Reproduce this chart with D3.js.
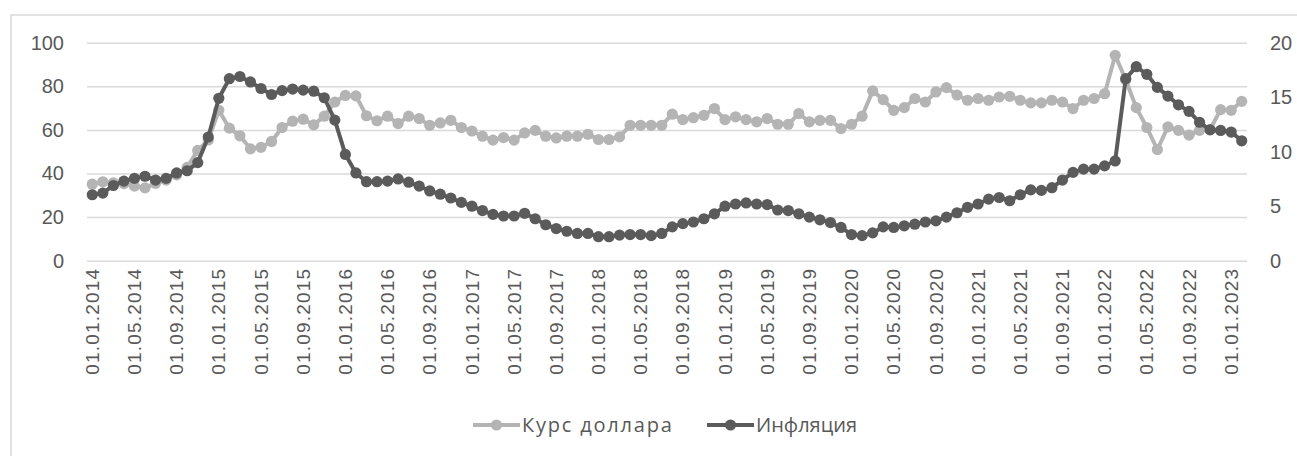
<!DOCTYPE html>
<html>
<head>
<meta charset="utf-8">
<script src="https://cdn.jsdelivr.net/npm/d3@7"></script>
<style>
  html, body { margin: 0; padding: 0; background: #fff; }
  svg { display: block; font-family: "Open Sans", "Noto Sans", sans-serif; }
</style>
</head>
<body>
<svg id="chart" width="1297" height="456"></svg>
<script>
// Monthly observations, January 2014 – February 2023
const months = d3.timeMonth.range(new Date(2014, 0, 1), new Date(2023, 2, 1));
const fmt = d3.timeFormat("%d.%m.%Y");
const categories = months.map(fmt);

// Every fourth month is labelled on the x axis
const tickLabels = [
  "01.01.2014", "01.05.2014", "01.09.2014", "01.01.2015", "01.05.2015", "01.09.2015",
  "01.01.2016", "01.05.2016", "01.09.2016", "01.01.2017", "01.05.2017", "01.09.2017",
  "01.01.2018", "01.05.2018", "01.09.2018", "01.01.2019", "01.05.2019", "01.09.2019",
  "01.01.2020", "01.05.2020", "01.09.2020", "01.01.2021", "01.05.2021", "01.09.2021",
  "01.01.2022", "01.05.2022", "01.09.2022", "01.01.2023"
];

// USD/RUB exchange rate, roubles (left axis)
const usdRate = [
  35.1, 36.2, 35.7, 35.4, 34.2, 33.4, 35.5, 37.0, 39.4, 42.8, 50.6, 55.4,
  69.0, 60.8, 57.3, 51.3, 52.0, 54.7, 61.1, 64.0, 64.9, 62.3, 66.3, 72.8,
  75.8, 75.6, 66.5, 64.2, 66.3, 62.9, 66.3, 65.2, 62.1, 63.2, 64.4, 61.1,
  59.5, 57.1, 55.3, 56.5, 55.3, 58.6, 59.8, 57.1, 56.3, 57.1, 57.1, 58.0,
  55.6, 55.6, 56.8, 62.1, 62.1, 62.1, 62.1, 67.2, 64.7, 65.6, 66.7, 69.8,
  64.7, 66.0, 64.7, 63.7, 65.2, 62.6, 62.6, 67.5, 63.7, 64.4, 64.4, 60.6,
  62.6, 66.3, 77.9, 73.9, 69.0, 70.2, 74.4, 72.8, 77.4, 79.4, 76.0, 73.6,
  74.4, 73.6, 75.1, 75.4, 73.6, 72.4, 72.4, 73.6, 72.8, 69.8, 73.6, 74.4,
  76.6, 94.2, 83.0, 70.2, 61.1, 51.0, 61.4, 59.8, 57.6, 59.8, 60.2, 69.3,
  69.0, 73.1
];

// Year-on-year inflation, % (right axis)
const inflation = [
  6.05, 6.2, 6.9, 7.3, 7.55, 7.75, 7.4, 7.55, 8.05, 8.25, 9.0, 11.35,
  14.9, 16.7, 16.9, 16.4, 15.8, 15.25, 15.6, 15.75, 15.65, 15.55, 14.95, 12.9,
  9.75, 8.05, 7.25, 7.25, 7.3, 7.5, 7.2, 6.85, 6.4, 6.1, 5.75, 5.35,
  5.0, 4.6, 4.25, 4.1, 4.1, 4.35, 3.85, 3.3, 2.95, 2.7, 2.5, 2.5,
  2.2, 2.2, 2.35, 2.4, 2.4, 2.3, 2.5, 3.1, 3.4, 3.55, 3.85, 4.3,
  5.0, 5.2, 5.3, 5.2, 5.15, 4.65, 4.6, 4.3, 4.0, 3.75, 3.5, 3.05,
  2.4, 2.3, 2.55, 3.1, 3.05, 3.2, 3.35, 3.55, 3.65, 4.0, 4.4, 4.9,
  5.2, 5.65, 5.8, 5.5, 6.05, 6.5, 6.45, 6.7, 7.4, 8.1, 8.4, 8.4,
  8.7, 9.15, 16.7, 17.8, 17.1, 15.9, 15.1, 14.3, 13.7, 12.7, 12.0, 11.95,
  11.8, 11.0
];

const leftTicks = [0, 20, 40, 60, 80, 100];
const rightTicks = [0, 5, 10, 15, 20];
const seriesNames = ["Курс доллара", "Инфляция"];

const svg = d3.select("#chart");
const textColor = "#595959";
const gridColor = "#d9d9d9";
const colorUsd = "#b4b4b4";
const colorInf = "#5b5b5b";

// Outer chart frame
svg.append("rect")
  .attr("x", 11).attr("y", 15)
  .attr("width", 1320).attr("height", 470)
  .attr("fill", "none").attr("stroke", gridColor).attr("stroke-width", 1.5);

const x = d3.scaleBand().domain(categories).range([87, 1247]);
const cx = d => x(d) + x.bandwidth() / 2;
const yL = d3.scaleLinear().domain([0, 100]).range([260.7, 42.7]);
const yR = d3.scaleLinear().domain([0, 20]).range([260.7, 42.7]);

// Left axis with horizontal gridlines
const gLeft = svg.append("g")
  .attr("transform", "translate(87,0)")
  .call(d3.axisLeft(yL).tickValues(leftTicks).tickSize(-1160).tickPadding(23));
gLeft.select(".domain").remove();
gLeft.selectAll(".tick line").attr("stroke", gridColor).attr("stroke-width", 1.5);
gLeft.selectAll(".tick text")
  .attr("fill", textColor).style("font-size", "20px");

// Right axis labels
const gRight = svg.append("g")
  .attr("transform", "translate(1247,0)")
  .call(d3.axisRight(yR).tickValues(rightTicks).tickSize(0).tickPadding(23));
gRight.select(".domain").remove();
gRight.selectAll(".tick text")
  .attr("fill", textColor).style("font-size", "20px");

// Category axis with vertical date labels
const gBottom = svg.append("g")
  .attr("transform", "translate(0,260.7)")
  .call(d3.axisBottom(x).tickValues(tickLabels).tickSize(0));
gBottom.select(".domain").remove();
gBottom.selectAll(".tick text")
  .attr("fill", textColor)
  .style("font-size", "19px")
  .style("letter-spacing", "1.2px")
  .attr("transform", "rotate(-90)")
  .attr("text-anchor", "end")
  .attr("dy", "0.35em")
  .attr("x", -7)
  .attr("y", 0);

// Series
const lineUsd = d3.line().x((d, i) => cx(categories[i])).y(d => yL(d));
const lineInf = d3.line().x((d, i) => cx(categories[i])).y(d => yR(d));

function drawSeries(values, gen, scale, color) {
  const g = svg.append("g");
  g.append("path")
    .datum(values)
    .attr("d", gen)
    .attr("fill", "none")
    .attr("stroke", color)
    .attr("stroke-width", 4)
    .attr("stroke-linejoin", "round");
  g.selectAll("circle")
    .data(values)
    .join("circle")
    .attr("cx", (d, i) => cx(categories[i]))
    .attr("cy", d => scale(d))
    .attr("r", 5.6)
    .attr("fill", color);
}
drawSeries(usdRate, lineUsd, yL, colorUsd);
drawSeries(inflation, lineInf, yR, colorInf);

// Legend
const legend = svg.append("g").attr("transform", "translate(0,425)");
const items = [
  { name: seriesNames[0], color: colorUsd, x0: 473, spacing: "1.8px" },
  { name: seriesNames[1], color: colorInf, x0: 707, spacing: "0px" }
];
items.forEach(it => {
  legend.append("line")
    .attr("x1", it.x0).attr("x2", it.x0 + 47)
    .attr("y1", 0).attr("y2", 0)
    .attr("stroke", it.color).attr("stroke-width", 4);
  legend.append("circle")
    .attr("cx", it.x0 + 23.5).attr("cy", 0).attr("r", 5.6)
    .attr("fill", it.color);
  legend.append("text")
    .attr("x", it.x0 + 49).attr("y", 0)
    .attr("dy", "0.35em")
    .attr("fill", textColor)
    .style("font-size", "20px")
    .style("letter-spacing", it.spacing)
    .text(it.name);
});
</script>
</body>
</html>
